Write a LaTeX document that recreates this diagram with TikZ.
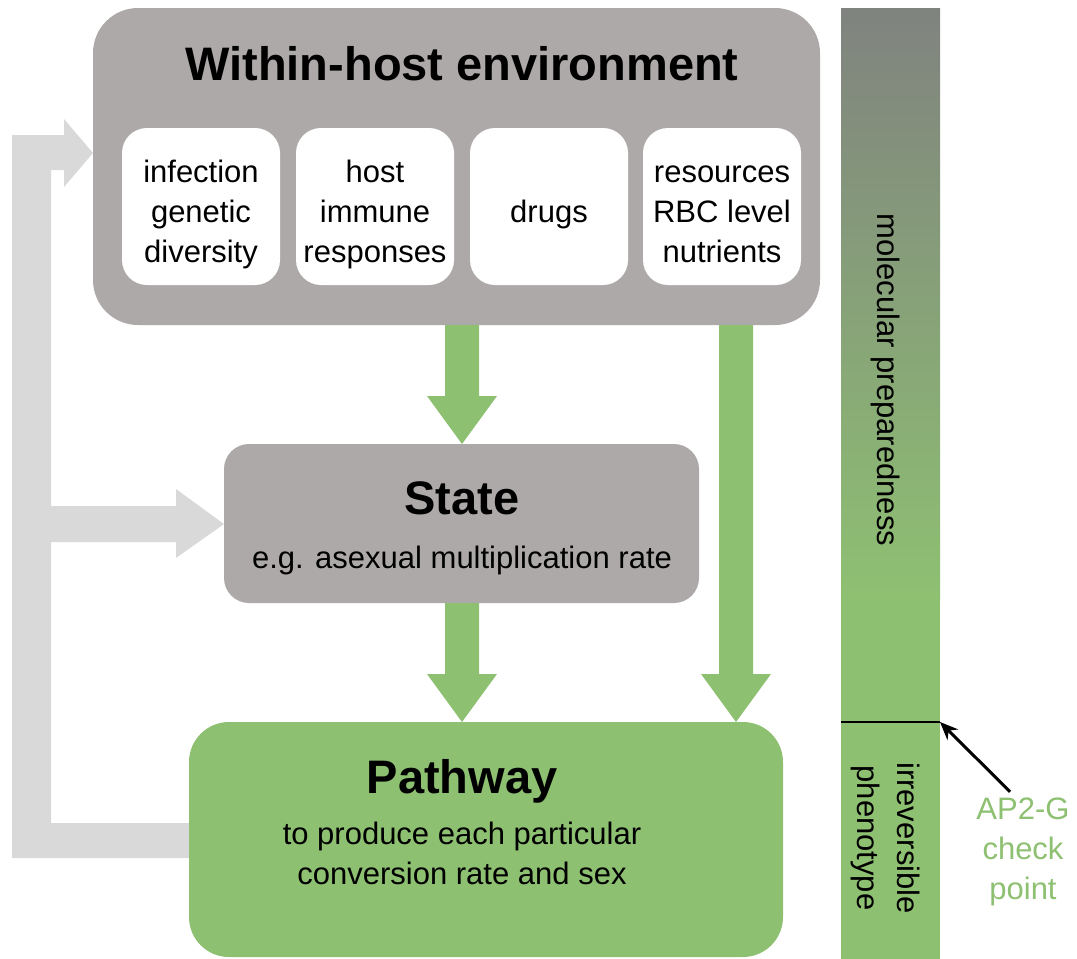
\documentclass[tikz,border=0pt]{standalone}
\usepackage{fontspec}
\setmainfont{Liberation Sans}
\usepackage{xcolor}
\usetikzlibrary{arrows.meta}

\definecolor{envgray}{RGB}{173,169,168}
\definecolor{pathgreen}{RGB}{142,192,114}
\definecolor{loopgray}{RGB}{217,217,217}
\definecolor{bargray}{RGB}{128,131,127}

% block arrow pointing down: centre x, top y, tip y
\newcommand{\greenarrow}[3]{%
  \fill[pathgreen] (#1-17,#2) -- (#1-17,#3-48) -- (#1-35,#3-48) -- (#1,#3)
    -- (#1+35,#3-48) -- (#1+17,#3-48) -- (#1+17,#2) -- cycle;}

\begin{document}
\begin{tikzpicture}[x=1pt,y=-1pt,
  headtext/.style={font=\fontsize{47}{52}\selectfont\bfseries,inner sep=0},
  bodytext/.style={font=\fontsize{31}{40}\selectfont,align=center,inner sep=0},
  factorbox/.style={fill=white,rounded corners=25pt,minimum width=158pt,minimum height=157pt}]
\useasboundingbox (0,0) rectangle (1077,959);

\fill[loopgray] (200,823) -- (51,823) -- (51,542) -- (176,542) -- (176,558) -- (224,524)
  -- (176,489) -- (176,506) -- (51,506) -- (51,170) -- (64,170) -- (64,187) -- (93,153)
  -- (64,119) -- (64,135) -- (12,135) -- (12,858) -- (200,858) -- cycle;

\node[fill=envgray,rounded corners=45pt,minimum width=727pt,minimum height=317pt] (env) at (456.5,166.5) {};
\node[headtext,anchor=base] (envtitle) at (462,80) {Within-host environment};
\node[factorbox] (infection) at (201,206.5) {};
\node[factorbox] (immune) at (375,206.5) {};
\node[factorbox] (drugs) at (549,206.5) {};
\node[factorbox] (resources) at (722,206.5) {};
\node[bodytext] (infectiontext) at ([yshift=-8pt]infection.center) {infection\\genetic\\diversity};
\node[bodytext] (immunetext) at ([yshift=-8pt]immune.center) {host\\immune\\responses};
\node[bodytext] (drugstext) at ([yshift=-8pt]drugs.center) {drugs};
\node[bodytext] (resourcestext) at ([yshift=-8pt]resources.center) {resources\\RBC level\\nutrients};

\node[fill=envgray,rounded corners=25pt,minimum width=475pt,minimum height=159pt] (state) at (461.5,523.5) {};
\node[headtext,anchor=base] (statetitle) at (462,514) {State};
\node[bodytext,anchor=base] (statenote) at (462,568) {e.g. asexual multiplication rate};

\node[fill=pathgreen,rounded corners=40pt,minimum width=594pt,minimum height=235pt] (pathway) at (486,839.5) {};
\node[headtext,anchor=base] (pathtitle) at (462,793) {Pathway};
\node[bodytext] (pathnote) at (462,853) {to produce each particular\\conversion rate and sex};

\greenarrow{462}{325}{444}
\greenarrow{462}{603}{722}
\greenarrow{736}{325}{722}

\shade[top color=bargray,bottom color=pathgreen] (841,8) rectangle (940,600);
\fill[pathgreen] (841,599) rectangle (940,959);
\coordinate (chk) at (940,722);
\draw[line width=2pt] (841,722) -- (chk);
\node[bodytext,rotate=-90] (prep) at (886,380) {molecular preparedness};
\node[bodytext,rotate=-90] (irrev) at (886,838) {irreversible\\phenotype};

\node[bodytext,text=pathgreen] (ap2g) at (1023,852) {AP2-G\\check\\point};
\draw[line width=3pt,-{Stealth[length=18pt,width=15pt]}] ([xshift=-13pt,yshift=6pt]ap2g.north) -- (chk);
\end{tikzpicture}
\end{document}
